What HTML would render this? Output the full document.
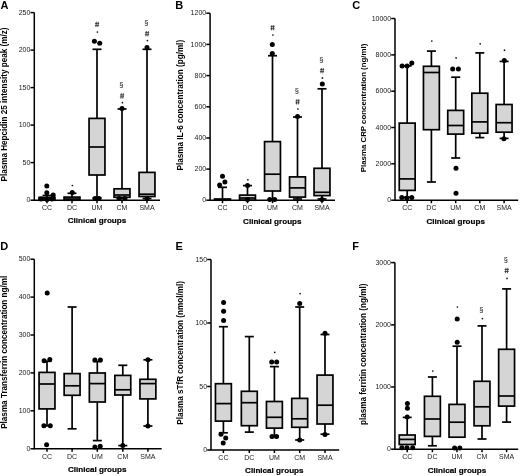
<!DOCTYPE html>
<html><head><meta charset="utf-8"><style>
html,body{margin:0;padding:0;background:#fff;}
svg{display:block;filter:grayscale(1) blur(0.4px);}
text{font-family:"Liberation Sans",sans-serif;}
.let{font-size:11px;font-weight:bold;fill:#000;}
.ttl{font-size:8.15px;font-weight:bold;fill:#000;}
.tk{font-size:7px;fill:#222;}
.xl{font-size:8.1px;font-weight:bold;fill:#000;stroke:#000;stroke-width:0.2;}
.an{font-size:7.4px;fill:#111;}
.ax{stroke:#000;stroke-width:1.5;}
.wl{stroke:#000;stroke-width:1.7;}
.bx{fill:#d5d5d5;stroke:#000;stroke-width:1.7;}
.md{stroke:#000;stroke-width:1.7;}
circle{fill:#000;}
.st{fill:#111;}
.hs{stroke:#222;stroke-width:0.75;fill:none;}
</style></head><body>
<svg width="520" height="476" viewBox="0 0 520 476">
<rect width="520" height="476" fill="#fff"/>
<text x="0.6" y="8.7" class="let">A</text>
<text transform="translate(7.2,104.5) rotate(-90)" class="ttl" text-anchor="middle">Plasma Hepcidin 25 intensity peak (m/z)</text>
<line x1="30.5" y1="12.6" x2="34.3" y2="12.6" class="ax"/>
<text x="30.4" y="14.8" class="tk" text-anchor="end">250</text>
<line x1="30.5" y1="50.1" x2="34.3" y2="50.1" class="ax"/>
<text x="30.4" y="52.3" class="tk" text-anchor="end">200</text>
<line x1="30.5" y1="87.6" x2="34.3" y2="87.6" class="ax"/>
<text x="30.4" y="89.8" class="tk" text-anchor="end">150</text>
<line x1="30.5" y1="125.1" x2="34.3" y2="125.1" class="ax"/>
<text x="30.4" y="127.3" class="tk" text-anchor="end">100</text>
<line x1="30.5" y1="162.6" x2="34.3" y2="162.6" class="ax"/>
<text x="30.4" y="164.8" class="tk" text-anchor="end">50</text>
<line x1="30.5" y1="200.2" x2="34.3" y2="200.2" class="ax"/>
<text x="30.4" y="202.4" class="tk" text-anchor="end">0</text>
<line x1="47" y1="195.5" x2="47" y2="197.4" class="wl"/>
<line x1="42.5" y1="195.5" x2="51.5" y2="195.5" class="wl"/>
<rect x="39.05" y="197.4" width="15.9" height="2.8" class="bx"/>
<line x1="39.05" y1="199" x2="54.95" y2="199" class="md"/>
<circle cx="46.8" cy="186" r="2.5"/>
<circle cx="46.8" cy="192.8" r="2.5"/>
<circle cx="53.2" cy="194.9" r="2.5"/>
<circle cx="41" cy="199" r="2.5"/>
<circle cx="47" cy="199.5" r="2.5"/>
<circle cx="52" cy="199" r="2.5"/>
<line x1="47" y1="200.2" x2="47" y2="203.2" class="ax"/>
<text x="47" y="209.7" class="tk" text-anchor="middle">CC</text>
<line x1="72" y1="193.3" x2="72" y2="197.1" class="wl"/>
<line x1="67.5" y1="193.3" x2="76.5" y2="193.3" class="wl"/>
<rect x="64.05" y="197.1" width="15.9" height="3.1" class="bx"/>
<line x1="64.05" y1="199" x2="79.95" y2="199" class="md"/>
<circle cx="72.3" cy="192.5" r="2.5"/>
<circle cx="72.4" cy="185.5" r="0.85" class="st"/>
<line x1="72" y1="200.2" x2="72" y2="203.2" class="ax"/>
<text x="72" y="209.7" class="tk" text-anchor="middle">DC</text>
<line x1="97" y1="49.3" x2="97" y2="118.4" class="wl"/>
<line x1="92.5" y1="49.3" x2="101.5" y2="49.3" class="wl"/>
<line x1="97" y1="175" x2="97" y2="198" class="wl"/>
<line x1="92.5" y1="198" x2="101.5" y2="198" class="wl"/>
<rect x="89.05" y="118.4" width="15.9" height="56.6" class="bx"/>
<line x1="89.05" y1="147" x2="104.95" y2="147" class="md"/>
<circle cx="94.4" cy="41.2" r="2.5"/>
<circle cx="99.7" cy="43.2" r="2.5"/>
<circle cx="95" cy="198.5" r="2.5"/>
<circle cx="99" cy="198.5" r="2.5"/>
<circle cx="97.4" cy="32" r="0.85" class="st"/>
<path d="M96.4 21.7L95.9 27.1M98.3 21.7L97.8 27.1M95 23.4H99.2M94.9 25.4H99.1" class="hs"/>
<line x1="97" y1="200.2" x2="97" y2="203.2" class="ax"/>
<text x="97" y="209.7" class="tk" text-anchor="middle">UM</text>
<line x1="122" y1="109" x2="122" y2="188.8" class="wl"/>
<line x1="117.5" y1="109" x2="126.5" y2="109" class="wl"/>
<line x1="122" y1="197.3" x2="122" y2="198.5" class="wl"/>
<line x1="117.5" y1="198.5" x2="126.5" y2="198.5" class="wl"/>
<rect x="114.05" y="188.8" width="15.9" height="8.5" class="bx"/>
<line x1="114.05" y1="195" x2="129.95" y2="195" class="md"/>
<circle cx="122" cy="108.5" r="2.5"/>
<circle cx="119" cy="198.5" r="2.5"/>
<circle cx="125" cy="198.5" r="2.5"/>
<circle cx="122.4" cy="102.7" r="0.85" class="st"/>
<path d="M121.4 93.2L120.9 98.6M123.3 93.2L122.8 98.6M120 94.9H124.2M119.9 96.9H124.1" class="hs"/>
<text x="121.3" y="87.1" class="an" text-anchor="middle">§</text>
<line x1="122" y1="200.2" x2="122" y2="203.2" class="ax"/>
<text x="122" y="209.7" class="tk" text-anchor="middle">CM</text>
<line x1="147" y1="49.3" x2="147" y2="172.4" class="wl"/>
<line x1="142.5" y1="49.3" x2="151.5" y2="49.3" class="wl"/>
<line x1="147" y1="196.5" x2="147" y2="198.5" class="wl"/>
<line x1="142.5" y1="198.5" x2="151.5" y2="198.5" class="wl"/>
<rect x="139.05" y="172.4" width="15.9" height="24.1" class="bx"/>
<line x1="139.05" y1="194.2" x2="154.95" y2="194.2" class="md"/>
<circle cx="147" cy="47.5" r="2.5"/>
<circle cx="147" cy="198.5" r="2.5"/>
<circle cx="147.4" cy="40.6" r="0.85" class="st"/>
<path d="M146.4 31L145.9 36.4M148.3 31L147.8 36.4M145 32.7H149.2M144.9 34.7H149.1" class="hs"/>
<text x="146.3" y="25" class="an" text-anchor="middle">§</text>
<line x1="147" y1="200.2" x2="147" y2="203.2" class="ax"/>
<text x="147" y="209.7" class="tk" text-anchor="middle">SMA</text>
<polyline points="34.3,12.6 34.3,200.2 160,200.2" class="ax" fill="none"/>
<text x="97" y="223.4" class="xl" text-anchor="middle">Clinical groups</text>
<text x="175.3" y="8.8" class="let">B</text>
<text transform="translate(183.4,105.15) rotate(-90)" class="ttl" text-anchor="middle">Plasma IL-6 concentration (pg/ml)</text>
<line x1="206.3" y1="13.2" x2="210.1" y2="13.2" class="ax"/>
<text x="206.2" y="15.4" class="tk" text-anchor="end">1200</text>
<line x1="206.3" y1="44.4" x2="210.1" y2="44.4" class="ax"/>
<text x="206.2" y="46.6" class="tk" text-anchor="end">1000</text>
<line x1="206.3" y1="75.6" x2="210.1" y2="75.6" class="ax"/>
<text x="206.2" y="77.8" class="tk" text-anchor="end">800</text>
<line x1="206.3" y1="106.8" x2="210.1" y2="106.8" class="ax"/>
<text x="206.2" y="109" class="tk" text-anchor="end">600</text>
<line x1="206.3" y1="138" x2="210.1" y2="138" class="ax"/>
<text x="206.2" y="140.2" class="tk" text-anchor="end">400</text>
<line x1="206.3" y1="169.1" x2="210.1" y2="169.1" class="ax"/>
<text x="206.2" y="171.3" class="tk" text-anchor="end">200</text>
<line x1="206.3" y1="200.2" x2="210.1" y2="200.2" class="ax"/>
<text x="206.2" y="202.4" class="tk" text-anchor="end">0</text>
<line x1="222.5" y1="187.3" x2="222.5" y2="199" class="wl"/>
<line x1="218" y1="187.3" x2="227" y2="187.3" class="wl"/>
<rect x="214.55" y="199" width="15.9" height="1.2" class="bx"/>
<line x1="214.55" y1="200" x2="230.45" y2="200" class="md"/>
<circle cx="222.5" cy="176.3" r="2.5"/>
<circle cx="224.9" cy="182" r="2.5"/>
<circle cx="219.6" cy="184.9" r="2.5"/>
<line x1="222.5" y1="200.2" x2="222.5" y2="203.2" class="ax"/>
<text x="222.5" y="209.7" class="tk" text-anchor="middle">CC</text>
<line x1="247.5" y1="185.6" x2="247.5" y2="195.1" class="wl"/>
<line x1="243" y1="185.6" x2="252" y2="185.6" class="wl"/>
<rect x="239.55" y="195.1" width="15.9" height="5.1" class="bx"/>
<line x1="239.55" y1="198" x2="255.45" y2="198" class="md"/>
<circle cx="247.5" cy="185.6" r="2.5"/>
<circle cx="247.5" cy="199.5" r="2.5"/>
<circle cx="247.9" cy="179.8" r="0.85" class="st"/>
<line x1="247.5" y1="200.2" x2="247.5" y2="203.2" class="ax"/>
<text x="247.5" y="209.7" class="tk" text-anchor="middle">DC</text>
<line x1="272.5" y1="55.7" x2="272.5" y2="141.6" class="wl"/>
<line x1="268" y1="55.7" x2="277" y2="55.7" class="wl"/>
<line x1="272.5" y1="191" x2="272.5" y2="199" class="wl"/>
<line x1="268" y1="199" x2="277" y2="199" class="wl"/>
<rect x="264.55" y="141.6" width="15.9" height="49.4" class="bx"/>
<line x1="264.55" y1="174.2" x2="280.45" y2="174.2" class="md"/>
<circle cx="272.3" cy="44.4" r="2.5"/>
<circle cx="272.3" cy="53.6" r="2.5"/>
<circle cx="269.7" cy="199.5" r="2.5"/>
<circle cx="274.6" cy="199.5" r="2.5"/>
<circle cx="272.9" cy="35" r="0.85" class="st"/>
<path d="M271.9 25L271.4 30.4M273.8 25L273.3 30.4M270.5 26.7H274.7M270.4 28.7H274.6" class="hs"/>
<line x1="272.5" y1="200.2" x2="272.5" y2="203.2" class="ax"/>
<text x="272.5" y="209.7" class="tk" text-anchor="middle">UM</text>
<line x1="297.5" y1="117" x2="297.5" y2="176.9" class="wl"/>
<line x1="293" y1="117" x2="302" y2="117" class="wl"/>
<line x1="297.5" y1="197.1" x2="297.5" y2="199" class="wl"/>
<line x1="293" y1="199" x2="302" y2="199" class="wl"/>
<rect x="289.55" y="176.9" width="15.9" height="20.2" class="bx"/>
<line x1="289.55" y1="187.9" x2="305.45" y2="187.9" class="md"/>
<circle cx="297.5" cy="116.5" r="2.5"/>
<circle cx="297.9" cy="109" r="0.85" class="st"/>
<path d="M296.9 99.1L296.4 104.5M298.8 99.1L298.3 104.5M295.5 100.8H299.7M295.4 102.8H299.6" class="hs"/>
<text x="296.8" y="93.4" class="an" text-anchor="middle">§</text>
<line x1="297.5" y1="200.2" x2="297.5" y2="203.2" class="ax"/>
<text x="297.5" y="209.7" class="tk" text-anchor="middle">CM</text>
<line x1="322" y1="88.8" x2="322" y2="168.3" class="wl"/>
<line x1="317.5" y1="88.8" x2="326.5" y2="88.8" class="wl"/>
<line x1="322" y1="195.6" x2="322" y2="199" class="wl"/>
<line x1="317.5" y1="199" x2="326.5" y2="199" class="wl"/>
<rect x="314.05" y="168.3" width="15.9" height="27.3" class="bx"/>
<line x1="314.05" y1="192.3" x2="329.95" y2="192.3" class="md"/>
<circle cx="322.3" cy="83.9" r="2.5"/>
<circle cx="322" cy="199.5" r="2.5"/>
<circle cx="322.4" cy="77.9" r="0.85" class="st"/>
<path d="M321.4 67.9L320.9 73.3M323.3 67.9L322.8 73.3M320 69.6H324.2M319.9 71.6H324.1" class="hs"/>
<text x="321.3" y="62.4" class="an" text-anchor="middle">§</text>
<line x1="322" y1="200.2" x2="322" y2="203.2" class="ax"/>
<text x="322" y="209.7" class="tk" text-anchor="middle">SMA</text>
<polyline points="210.1,13.2 210.1,200.2 335,200.2" class="ax" fill="none"/>
<text x="272.3" y="224" class="xl" text-anchor="middle">Clinical groups</text>
<text x="352.2" y="8.9" class="let">C</text>
<text transform="translate(365.6,107.95) rotate(-90)" class="ttl" text-anchor="middle" style="font-size:7.85px">Plasma CRP concentration (ng/ml)</text>
<line x1="391.2" y1="18.5" x2="395" y2="18.5" class="ax"/>
<text x="391.1" y="20.7" class="tk" text-anchor="end">10000</text>
<line x1="391.2" y1="54.9" x2="395" y2="54.9" class="ax"/>
<text x="391.1" y="57.1" class="tk" text-anchor="end">8000</text>
<line x1="391.2" y1="91.2" x2="395" y2="91.2" class="ax"/>
<text x="391.1" y="93.4" class="tk" text-anchor="end">6000</text>
<line x1="391.2" y1="127.5" x2="395" y2="127.5" class="ax"/>
<text x="391.1" y="129.7" class="tk" text-anchor="end">4000</text>
<line x1="391.2" y1="163.8" x2="395" y2="163.8" class="ax"/>
<text x="391.1" y="166" class="tk" text-anchor="end">2000</text>
<line x1="391.2" y1="200.2" x2="395" y2="200.2" class="ax"/>
<text x="391.1" y="202.4" class="tk" text-anchor="end">0</text>
<line x1="407.2" y1="65.9" x2="407.2" y2="123.1" class="wl"/>
<line x1="402.7" y1="65.9" x2="411.7" y2="65.9" class="wl"/>
<line x1="407.2" y1="190.4" x2="407.2" y2="197.3" class="wl"/>
<line x1="402.7" y1="197.3" x2="411.7" y2="197.3" class="wl"/>
<rect x="399.25" y="123.1" width="15.9" height="67.3" class="bx"/>
<line x1="399.25" y1="178.9" x2="415.15" y2="178.9" class="md"/>
<circle cx="402.1" cy="65.9" r="2.5"/>
<circle cx="407.1" cy="65.9" r="2.5"/>
<circle cx="411.8" cy="63.1" r="2.5"/>
<circle cx="401.8" cy="197.5" r="2.5"/>
<circle cx="406.8" cy="198" r="2.5"/>
<circle cx="411.8" cy="197.5" r="2.5"/>
<line x1="407.2" y1="200.2" x2="407.2" y2="203.2" class="ax"/>
<text x="407.2" y="209.7" class="tk" text-anchor="middle">CC</text>
<line x1="431.4" y1="51.1" x2="431.4" y2="66.3" class="wl"/>
<line x1="426.9" y1="51.1" x2="435.9" y2="51.1" class="wl"/>
<line x1="431.4" y1="129.7" x2="431.4" y2="182" class="wl"/>
<line x1="426.9" y1="182" x2="435.9" y2="182" class="wl"/>
<rect x="423.45" y="66.3" width="15.9" height="63.4" class="bx"/>
<line x1="423.45" y1="72.5" x2="439.35" y2="72.5" class="md"/>
<circle cx="431.8" cy="41" r="0.85" class="st"/>
<line x1="431.4" y1="200.2" x2="431.4" y2="203.2" class="ax"/>
<text x="431.4" y="209.7" class="tk" text-anchor="middle">DC</text>
<line x1="455.7" y1="77.2" x2="455.7" y2="110.4" class="wl"/>
<line x1="451.2" y1="77.2" x2="460.2" y2="77.2" class="wl"/>
<line x1="455.7" y1="134.1" x2="455.7" y2="158" class="wl"/>
<line x1="451.2" y1="158" x2="460.2" y2="158" class="wl"/>
<rect x="447.75" y="110.4" width="15.9" height="23.7" class="bx"/>
<line x1="447.75" y1="125.5" x2="463.65" y2="125.5" class="md"/>
<circle cx="452.7" cy="69" r="2.5"/>
<circle cx="458.4" cy="69" r="2.5"/>
<circle cx="456" cy="168.2" r="2.5"/>
<circle cx="456" cy="193.2" r="2.5"/>
<circle cx="456.1" cy="57.9" r="0.85" class="st"/>
<line x1="455.7" y1="200.2" x2="455.7" y2="203.2" class="ax"/>
<text x="455.7" y="209.7" class="tk" text-anchor="middle">UM</text>
<line x1="479.8" y1="52.9" x2="479.8" y2="93.2" class="wl"/>
<line x1="475.3" y1="52.9" x2="484.3" y2="52.9" class="wl"/>
<line x1="479.8" y1="133.2" x2="479.8" y2="137.6" class="wl"/>
<line x1="475.3" y1="137.6" x2="484.3" y2="137.6" class="wl"/>
<rect x="471.85" y="93.2" width="15.9" height="40" class="bx"/>
<line x1="471.85" y1="121.9" x2="487.75" y2="121.9" class="md"/>
<circle cx="480.2" cy="43.8" r="0.85" class="st"/>
<line x1="479.8" y1="200.2" x2="479.8" y2="203.2" class="ax"/>
<text x="479.8" y="209.7" class="tk" text-anchor="middle">CM</text>
<line x1="504.1" y1="61.4" x2="504.1" y2="104.5" class="wl"/>
<line x1="499.6" y1="61.4" x2="508.6" y2="61.4" class="wl"/>
<line x1="504.1" y1="132.2" x2="504.1" y2="138.4" class="wl"/>
<line x1="499.6" y1="138.4" x2="508.6" y2="138.4" class="wl"/>
<rect x="496.15" y="104.5" width="15.9" height="27.7" class="bx"/>
<line x1="496.15" y1="122.7" x2="512.05" y2="122.7" class="md"/>
<circle cx="504.3" cy="60.5" r="2.5"/>
<circle cx="503.9" cy="138.7" r="2.5"/>
<circle cx="504.5" cy="50.2" r="0.85" class="st"/>
<line x1="504.1" y1="200.2" x2="504.1" y2="203.2" class="ax"/>
<text x="504.1" y="209.7" class="tk" text-anchor="middle">SMA</text>
<polyline points="395,18.5 395,200.2 518.2,200.2" class="ax" fill="none"/>
<text x="455.7" y="224" class="xl" text-anchor="middle">Clinical groups</text>
<text x="0.2" y="250.3" class="let">D</text>
<text transform="translate(6.9,352.3) rotate(-90)" class="ttl" text-anchor="middle">Plasma Transferrin concentration ng/ml</text>
<line x1="30.5" y1="259.2" x2="34.3" y2="259.2" class="ax"/>
<text x="30.4" y="261.4" class="tk" text-anchor="end">500</text>
<line x1="30.5" y1="297.1" x2="34.3" y2="297.1" class="ax"/>
<text x="30.4" y="299.3" class="tk" text-anchor="end">400</text>
<line x1="30.5" y1="335" x2="34.3" y2="335" class="ax"/>
<text x="30.4" y="337.2" class="tk" text-anchor="end">300</text>
<line x1="30.5" y1="372.9" x2="34.3" y2="372.9" class="ax"/>
<text x="30.4" y="375.1" class="tk" text-anchor="end">200</text>
<line x1="30.5" y1="410.8" x2="34.3" y2="410.8" class="ax"/>
<text x="30.4" y="413" class="tk" text-anchor="end">100</text>
<line x1="30.5" y1="448.8" x2="34.3" y2="448.8" class="ax"/>
<text x="30.4" y="451" class="tk" text-anchor="end">0</text>
<line x1="47" y1="361.3" x2="47" y2="372.4" class="wl"/>
<line x1="42.5" y1="361.3" x2="51.5" y2="361.3" class="wl"/>
<line x1="47" y1="408.9" x2="47" y2="425.8" class="wl"/>
<line x1="42.5" y1="425.8" x2="51.5" y2="425.8" class="wl"/>
<rect x="39.05" y="372.4" width="15.9" height="36.5" class="bx"/>
<line x1="39.05" y1="384" x2="54.95" y2="384" class="md"/>
<circle cx="47.2" cy="293" r="2.5"/>
<circle cx="44.1" cy="360.7" r="2.5"/>
<circle cx="49.8" cy="359.5" r="2.5"/>
<circle cx="43.9" cy="425.8" r="2.5"/>
<circle cx="50.3" cy="425.8" r="2.5"/>
<circle cx="46.6" cy="444.7" r="2.5"/>
<line x1="47" y1="448.8" x2="47" y2="451.8" class="ax"/>
<text x="47" y="459" class="tk" text-anchor="middle">CC</text>
<line x1="72.1" y1="307" x2="72.1" y2="373.6" class="wl"/>
<line x1="67.6" y1="307" x2="76.6" y2="307" class="wl"/>
<line x1="72.1" y1="395.3" x2="72.1" y2="428.8" class="wl"/>
<line x1="67.6" y1="428.8" x2="76.6" y2="428.8" class="wl"/>
<rect x="64.15" y="373.6" width="15.9" height="21.7" class="bx"/>
<line x1="64.15" y1="385.8" x2="80.05" y2="385.8" class="md"/>
<line x1="72.1" y1="448.8" x2="72.1" y2="451.8" class="ax"/>
<text x="72.1" y="459" class="tk" text-anchor="middle">DC</text>
<line x1="97.3" y1="361.5" x2="97.3" y2="373" class="wl"/>
<line x1="92.8" y1="361.5" x2="101.8" y2="361.5" class="wl"/>
<line x1="97.3" y1="402" x2="97.3" y2="440.6" class="wl"/>
<line x1="92.8" y1="440.6" x2="101.8" y2="440.6" class="wl"/>
<rect x="89.35" y="373" width="15.9" height="29" class="bx"/>
<line x1="89.35" y1="383.6" x2="105.25" y2="383.6" class="md"/>
<circle cx="94.9" cy="360" r="2.5"/>
<circle cx="100.4" cy="360" r="2.5"/>
<circle cx="94.9" cy="446.9" r="2.5"/>
<circle cx="100.2" cy="446.3" r="2.5"/>
<line x1="97.3" y1="448.8" x2="97.3" y2="451.8" class="ax"/>
<text x="97.3" y="459" class="tk" text-anchor="middle">UM</text>
<line x1="122.8" y1="365.3" x2="122.8" y2="375.4" class="wl"/>
<line x1="118.3" y1="365.3" x2="127.3" y2="365.3" class="wl"/>
<line x1="122.8" y1="395" x2="122.8" y2="445.6" class="wl"/>
<line x1="118.3" y1="445.6" x2="127.3" y2="445.6" class="wl"/>
<rect x="114.85" y="375.4" width="15.9" height="19.6" class="bx"/>
<line x1="114.85" y1="389.8" x2="130.75" y2="389.8" class="md"/>
<circle cx="122.8" cy="445.6" r="2.5"/>
<line x1="122.8" y1="448.8" x2="122.8" y2="451.8" class="ax"/>
<text x="122.8" y="459" class="tk" text-anchor="middle">CM</text>
<line x1="147.9" y1="359.8" x2="147.9" y2="379.3" class="wl"/>
<line x1="143.4" y1="359.8" x2="152.4" y2="359.8" class="wl"/>
<line x1="147.9" y1="398.9" x2="147.9" y2="426" class="wl"/>
<line x1="143.4" y1="426" x2="152.4" y2="426" class="wl"/>
<rect x="139.95" y="379.3" width="15.9" height="19.6" class="bx"/>
<line x1="139.95" y1="383.6" x2="155.85" y2="383.6" class="md"/>
<circle cx="147.9" cy="359.8" r="2.5"/>
<circle cx="147.9" cy="426" r="2.5"/>
<line x1="147.9" y1="448.8" x2="147.9" y2="451.8" class="ax"/>
<text x="147.9" y="459" class="tk" text-anchor="middle">SMA</text>
<polyline points="34.3,259.2 34.3,448.8 161.7,448.8" class="ax" fill="none"/>
<text x="97.2" y="471.7" class="xl" text-anchor="middle">Clinical groups</text>
<text x="175.6" y="250.2" class="let">E</text>
<text transform="translate(183.4,352.9) rotate(-90)" class="ttl" text-anchor="middle">Plasma sTfR concentration (nmol/ml)</text>
<line x1="207.2" y1="259.5" x2="211" y2="259.5" class="ax"/>
<text x="207.1" y="261.7" class="tk" text-anchor="end">150</text>
<line x1="207.2" y1="323" x2="211" y2="323" class="ax"/>
<text x="207.1" y="325.2" class="tk" text-anchor="end">100</text>
<line x1="207.2" y1="386.5" x2="211" y2="386.5" class="ax"/>
<text x="207.1" y="388.7" class="tk" text-anchor="end">50</text>
<line x1="207.2" y1="450" x2="211" y2="450" class="ax"/>
<text x="207.1" y="452.2" class="tk" text-anchor="end">0</text>
<line x1="223.4" y1="326.7" x2="223.4" y2="383.7" class="wl"/>
<line x1="218.9" y1="326.7" x2="227.9" y2="326.7" class="wl"/>
<line x1="223.4" y1="421.1" x2="223.4" y2="432.8" class="wl"/>
<line x1="218.9" y1="432.8" x2="227.9" y2="432.8" class="wl"/>
<rect x="215.45" y="383.7" width="15.9" height="37.4" class="bx"/>
<line x1="215.45" y1="403.6" x2="231.35" y2="403.6" class="md"/>
<circle cx="223.6" cy="302.5" r="2.5"/>
<circle cx="223.6" cy="311.2" r="2.5"/>
<circle cx="223.6" cy="320.5" r="2.5"/>
<circle cx="221" cy="434.3" r="2.5"/>
<circle cx="225.7" cy="438" r="2.5"/>
<circle cx="223.2" cy="442.9" r="2.5"/>
<line x1="223.4" y1="450" x2="223.4" y2="453" class="ax"/>
<text x="223.4" y="459.5" class="tk" text-anchor="middle">CC</text>
<line x1="249.3" y1="336.6" x2="249.3" y2="391.3" class="wl"/>
<line x1="244.8" y1="336.6" x2="253.8" y2="336.6" class="wl"/>
<line x1="249.3" y1="425.7" x2="249.3" y2="432.1" class="wl"/>
<line x1="244.8" y1="432.1" x2="253.8" y2="432.1" class="wl"/>
<rect x="241.35" y="391.3" width="15.9" height="34.4" class="bx"/>
<line x1="241.35" y1="402.7" x2="257.25" y2="402.7" class="md"/>
<line x1="249.3" y1="450" x2="249.3" y2="453" class="ax"/>
<text x="249.3" y="459.5" class="tk" text-anchor="middle">DC</text>
<line x1="274.4" y1="366.6" x2="274.4" y2="401.5" class="wl"/>
<line x1="269.9" y1="366.6" x2="278.9" y2="366.6" class="wl"/>
<line x1="274.4" y1="428.1" x2="274.4" y2="436.3" class="wl"/>
<line x1="269.9" y1="436.3" x2="278.9" y2="436.3" class="wl"/>
<rect x="266.45" y="401.5" width="15.9" height="26.6" class="bx"/>
<line x1="266.45" y1="417.3" x2="282.35" y2="417.3" class="md"/>
<circle cx="271.7" cy="362" r="2.5"/>
<circle cx="276.7" cy="362" r="2.5"/>
<circle cx="272" cy="436.5" r="2.5"/>
<circle cx="276.5" cy="436.5" r="2.5"/>
<circle cx="274.8" cy="352.3" r="0.85" class="st"/>
<line x1="274.4" y1="450" x2="274.4" y2="453" class="ax"/>
<text x="274.4" y="459.5" class="tk" text-anchor="middle">UM</text>
<line x1="299.7" y1="307" x2="299.7" y2="398.4" class="wl"/>
<line x1="295.2" y1="307" x2="304.2" y2="307" class="wl"/>
<line x1="299.7" y1="427.3" x2="299.7" y2="440" class="wl"/>
<line x1="295.2" y1="440" x2="304.2" y2="440" class="wl"/>
<rect x="291.75" y="398.4" width="15.9" height="28.9" class="bx"/>
<line x1="291.75" y1="418.8" x2="307.65" y2="418.8" class="md"/>
<circle cx="299.7" cy="303.4" r="2.5"/>
<circle cx="299.7" cy="440" r="2.5"/>
<circle cx="300.1" cy="293.6" r="0.85" class="st"/>
<line x1="299.7" y1="450" x2="299.7" y2="453" class="ax"/>
<text x="299.7" y="459.5" class="tk" text-anchor="middle">CM</text>
<line x1="325" y1="334.5" x2="325" y2="375.1" class="wl"/>
<line x1="320.5" y1="334.5" x2="329.5" y2="334.5" class="wl"/>
<line x1="325" y1="424" x2="325" y2="434.2" class="wl"/>
<line x1="320.5" y1="434.2" x2="329.5" y2="434.2" class="wl"/>
<rect x="317.05" y="375.1" width="15.9" height="48.9" class="bx"/>
<line x1="317.05" y1="405.2" x2="332.95" y2="405.2" class="md"/>
<circle cx="325" cy="333.3" r="2.5"/>
<circle cx="325" cy="434.6" r="2.5"/>
<line x1="325" y1="450" x2="325" y2="453" class="ax"/>
<text x="325" y="459.5" class="tk" text-anchor="middle">SMA</text>
<polyline points="211,259.5 211,450 339.2,450" class="ax" fill="none"/>
<text x="274.3" y="473.1" class="xl" text-anchor="middle">Clinical groups</text>
<text x="352.3" y="250.3" class="let">F</text>
<text transform="translate(365.9,354.3) rotate(-90)" class="ttl" text-anchor="middle">plasma ferritin concentration (ng/ml)</text>
<line x1="391.1" y1="262.6" x2="394.9" y2="262.6" class="ax"/>
<text x="391" y="264.8" class="tk" text-anchor="end">3000</text>
<line x1="391.1" y1="324.9" x2="394.9" y2="324.9" class="ax"/>
<text x="391" y="327.1" class="tk" text-anchor="end">2000</text>
<line x1="391.1" y1="387" x2="394.9" y2="387" class="ax"/>
<text x="391" y="389.2" class="tk" text-anchor="end">1000</text>
<line x1="391.1" y1="449.2" x2="394.9" y2="449.2" class="ax"/>
<text x="391" y="451.4" class="tk" text-anchor="end">0</text>
<line x1="407.2" y1="417.4" x2="407.2" y2="435" class="wl"/>
<line x1="402.7" y1="417.4" x2="411.7" y2="417.4" class="wl"/>
<rect x="399.25" y="435" width="15.9" height="9.5" class="bx"/>
<line x1="399.25" y1="439.4" x2="415.15" y2="439.4" class="md"/>
<circle cx="407.4" cy="403.6" r="2.5"/>
<circle cx="407.4" cy="408.2" r="2.5"/>
<circle cx="407.2" cy="417" r="2.5"/>
<circle cx="401.9" cy="447.7" r="2.5"/>
<circle cx="407" cy="447.7" r="2.5"/>
<circle cx="412.7" cy="447.7" r="2.5"/>
<line x1="407.2" y1="449.2" x2="407.2" y2="452.2" class="ax"/>
<text x="407.2" y="459" class="tk" text-anchor="middle">CC</text>
<line x1="432.4" y1="377" x2="432.4" y2="396.3" class="wl"/>
<line x1="427.9" y1="377" x2="436.9" y2="377" class="wl"/>
<line x1="432.4" y1="436.4" x2="432.4" y2="445.8" class="wl"/>
<line x1="427.9" y1="445.8" x2="436.9" y2="445.8" class="wl"/>
<rect x="424.45" y="396.3" width="15.9" height="40.1" class="bx"/>
<line x1="424.45" y1="419" x2="440.35" y2="419" class="md"/>
<circle cx="432.8" cy="371" r="0.85" class="st"/>
<line x1="432.4" y1="449.2" x2="432.4" y2="452.2" class="ax"/>
<text x="432.4" y="459" class="tk" text-anchor="middle">DC</text>
<line x1="457" y1="346.2" x2="457" y2="404.4" class="wl"/>
<line x1="452.5" y1="346.2" x2="461.5" y2="346.2" class="wl"/>
<rect x="449.05" y="404.4" width="15.9" height="32.8" class="bx"/>
<line x1="449.05" y1="422.2" x2="464.95" y2="422.2" class="md"/>
<circle cx="457.2" cy="319.1" r="2.5"/>
<circle cx="457.2" cy="342.3" r="2.5"/>
<circle cx="454.6" cy="448" r="2.5"/>
<circle cx="459.8" cy="448" r="2.5"/>
<circle cx="457.4" cy="307" r="0.85" class="st"/>
<line x1="457" y1="449.2" x2="457" y2="452.2" class="ax"/>
<text x="457" y="459" class="tk" text-anchor="middle">UM</text>
<line x1="482" y1="325.9" x2="482" y2="381.3" class="wl"/>
<line x1="477.5" y1="325.9" x2="486.5" y2="325.9" class="wl"/>
<line x1="482" y1="425.8" x2="482" y2="439" class="wl"/>
<line x1="477.5" y1="439" x2="486.5" y2="439" class="wl"/>
<rect x="474.05" y="381.3" width="15.9" height="44.5" class="bx"/>
<line x1="474.05" y1="406.8" x2="489.95" y2="406.8" class="md"/>
<circle cx="482.4" cy="318.6" r="0.85" class="st"/>
<text x="481.3" y="311.6" class="an" text-anchor="middle">§</text>
<line x1="482" y1="449.2" x2="482" y2="452.2" class="ax"/>
<text x="482" y="459" class="tk" text-anchor="middle">CM</text>
<line x1="506.6" y1="288.9" x2="506.6" y2="349.3" class="wl"/>
<line x1="502.1" y1="288.9" x2="511.1" y2="288.9" class="wl"/>
<line x1="506.6" y1="406.1" x2="506.6" y2="422.1" class="wl"/>
<line x1="502.1" y1="422.1" x2="511.1" y2="422.1" class="wl"/>
<rect x="498.65" y="349.3" width="15.9" height="56.8" class="bx"/>
<line x1="498.65" y1="396" x2="514.55" y2="396" class="md"/>
<circle cx="507" cy="278.4" r="0.85" class="st"/>
<path d="M506 267.8L505.5 273.2M507.9 267.8L507.4 273.2M504.6 269.5H508.8M504.5 271.5H508.7" class="hs"/>
<text x="505.9" y="262" class="an" text-anchor="middle">§</text>
<line x1="506.6" y1="449.2" x2="506.6" y2="452.2" class="ax"/>
<text x="506.6" y="459" class="tk" text-anchor="middle">SMA</text>
<polyline points="394.9,262.6 394.9,449.2 518.2,449.2" class="ax" fill="none"/>
<text x="457" y="473.4" class="xl" text-anchor="middle">Clinical groups</text>
</svg>
</body></html>
